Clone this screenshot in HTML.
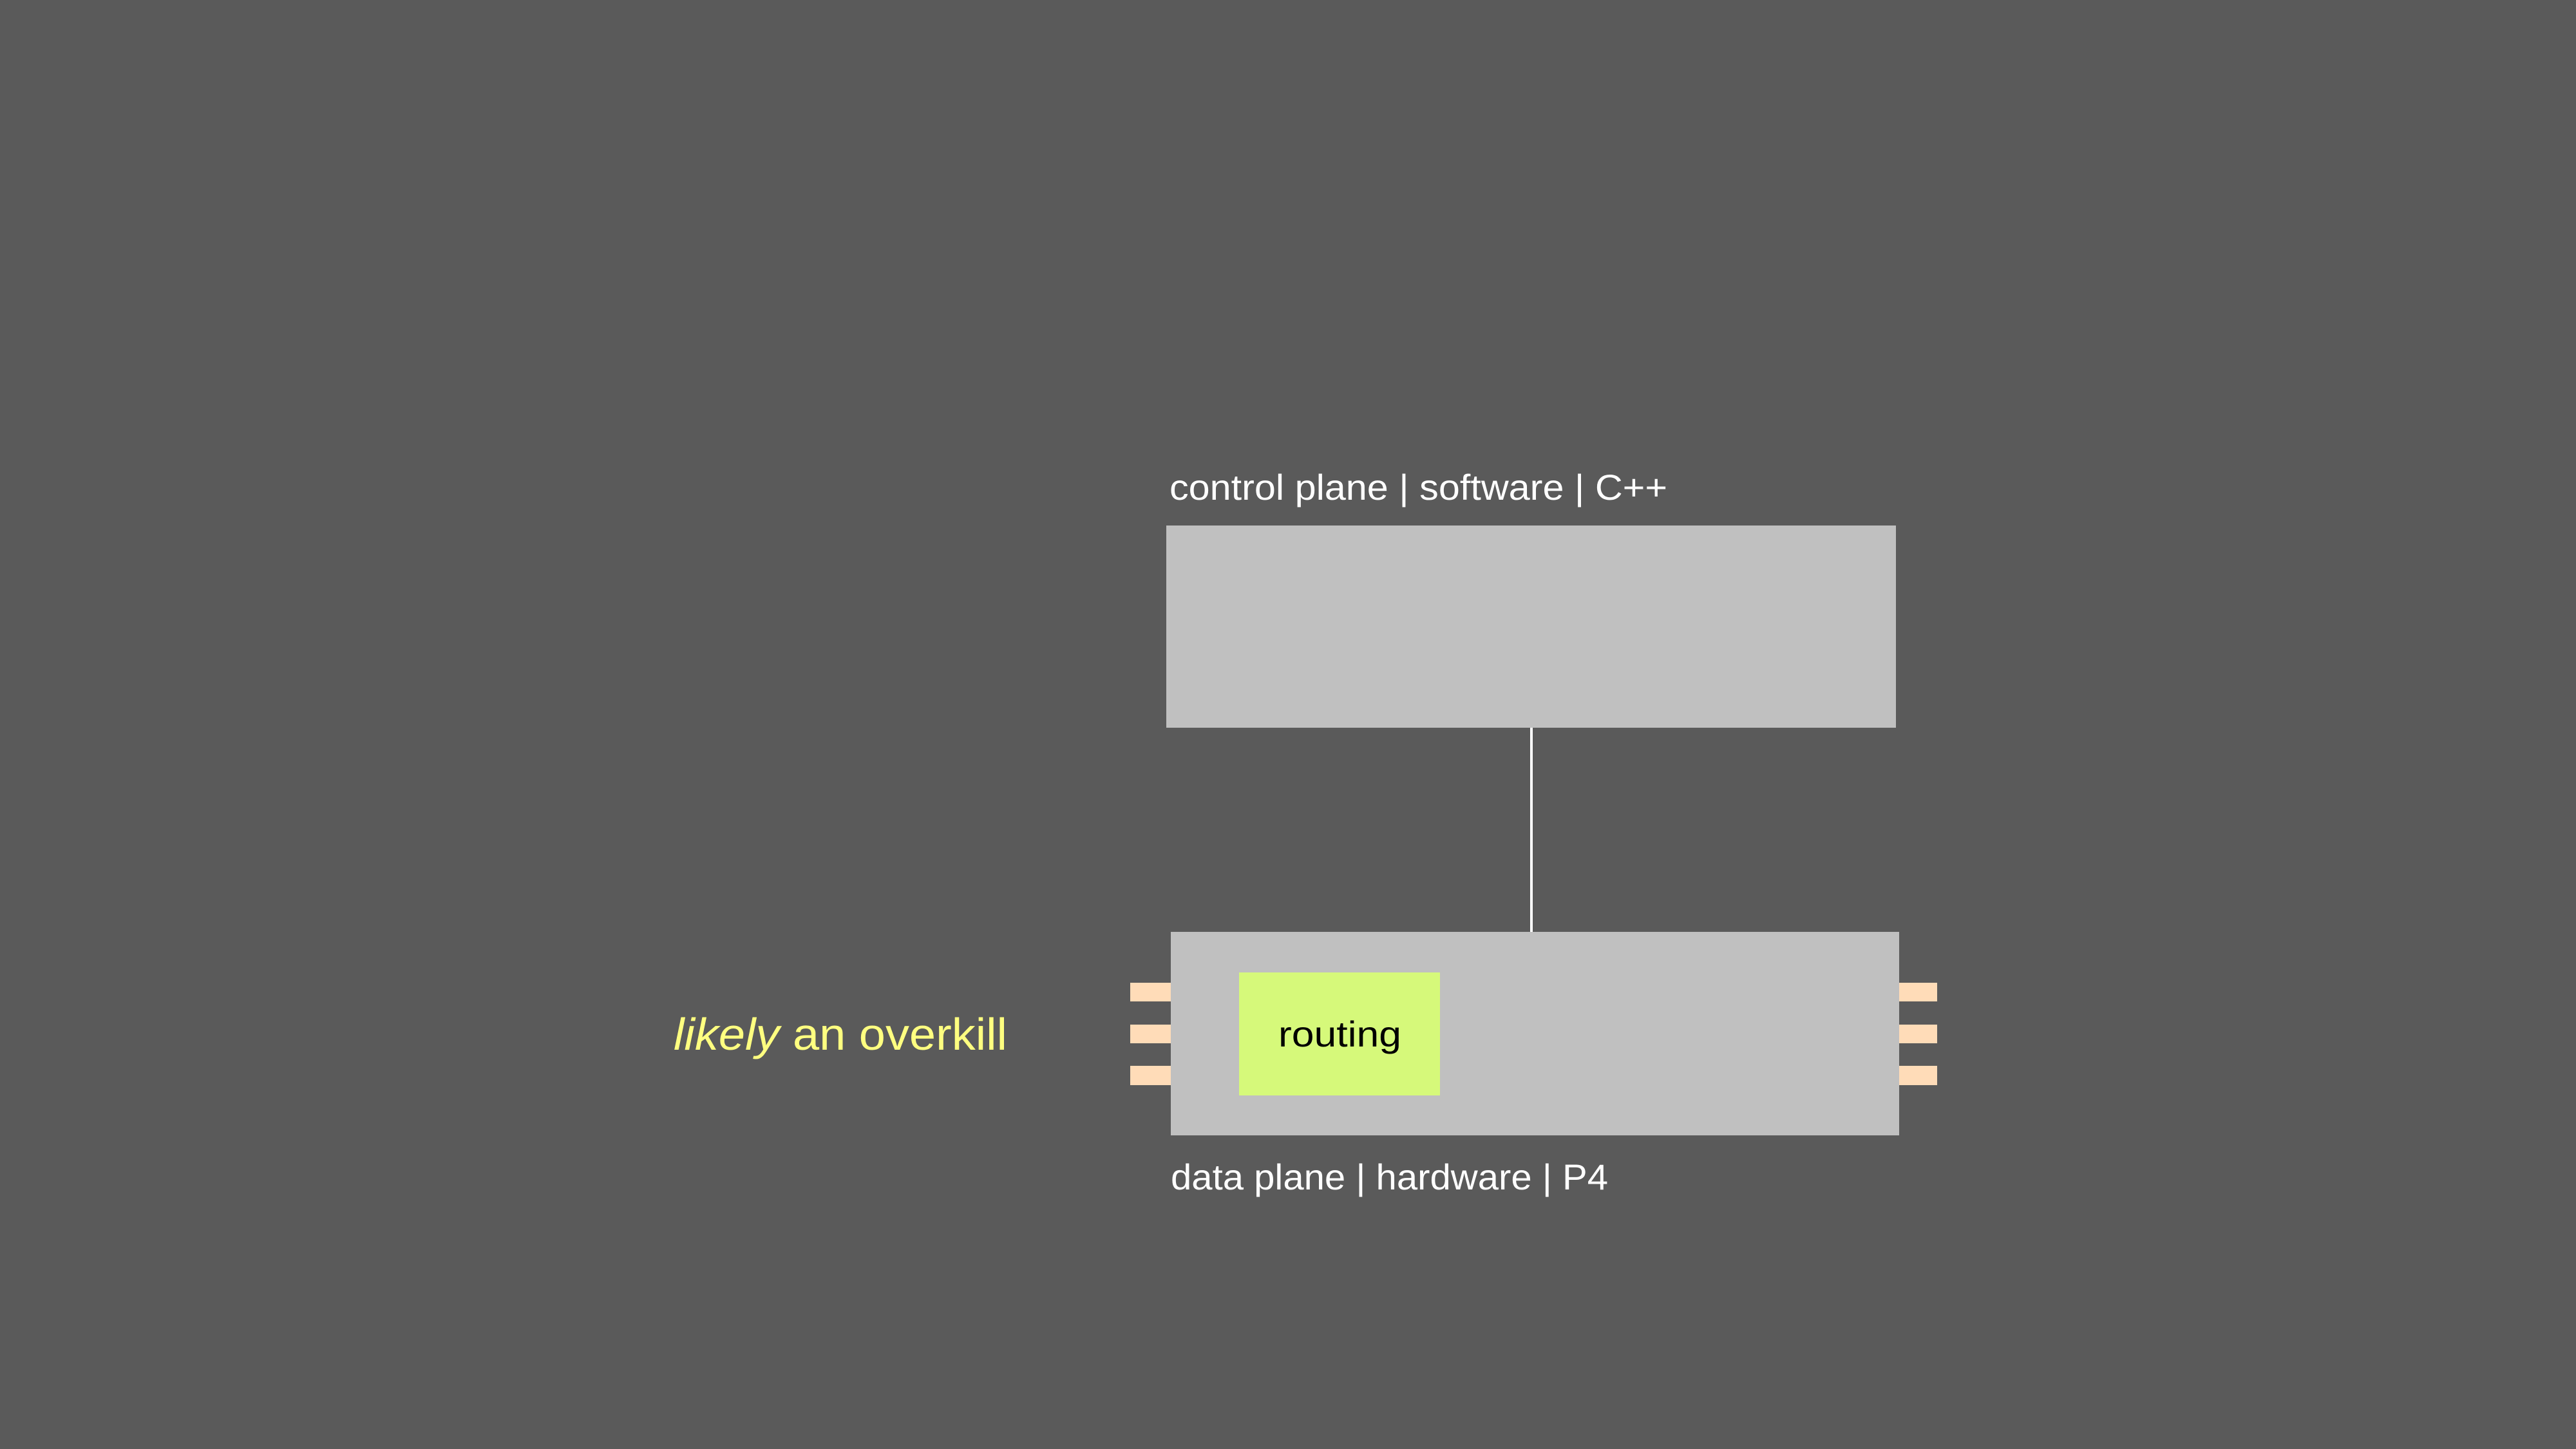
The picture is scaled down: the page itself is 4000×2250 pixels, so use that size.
<!DOCTYPE html>
<html><head><meta charset="utf-8"><style>html,body{margin:0;padding:0;background:#5a5a5a}</style></head>
<body>
<svg width="4000" height="2250" viewBox="0 0 4000 2250" xmlns="http://www.w3.org/2000/svg" style="display:block">
<rect width="4000" height="2250" fill="#5a5a5a"/>
<rect x="1811" y="816" width="1133" height="314" fill="#c0c0c0"/>
<line x1="2378" y1="1130" x2="2378" y2="1447" stroke="#ffffff" stroke-width="4"/>
<rect x="1818" y="1447" width="1131" height="316" fill="#c0c0c0"/>
<rect x="1924" y="1510" width="312" height="191" fill="#d6f97a"/>
<g fill="#ffdcb8">
<rect x="1755" y="1526" width="63" height="29"/>
<rect x="1755" y="1591" width="63" height="29"/>
<rect x="1755" y="1655" width="63" height="30"/>
<rect x="2949" y="1526" width="59" height="29"/>
<rect x="2949" y="1591" width="59" height="29"/>
<rect x="2949" y="1655" width="59" height="30"/>
</g>
<g font-family="Liberation Sans, sans-serif">
<text x="1816" y="776" font-size="56" fill="#ffffff" textLength="773" lengthAdjust="spacingAndGlyphs">control plane | software | C++</text>
<text x="1818" y="1847" font-size="56" fill="#ffffff" textLength="679" lengthAdjust="spacingAndGlyphs">data plane | hardware | P4</text>
<text x="1985" y="1625" font-size="56" fill="#000000" textLength="191" lengthAdjust="spacingAndGlyphs">routing</text>
<text x="1046" y="1630" font-size="70" fill="#ffff80" textLength="518" lengthAdjust="spacingAndGlyphs"><tspan font-style="italic">likely</tspan> an overkill</text>
</g>
</svg>
</body></html>
